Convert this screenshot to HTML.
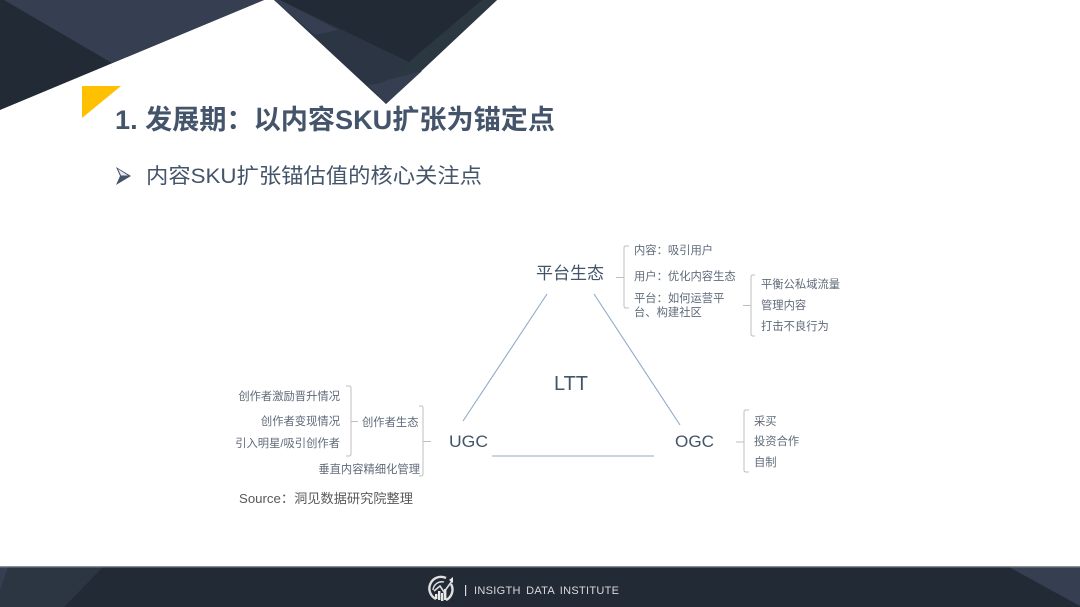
<!DOCTYPE html>
<html lang="zh">
<head>
<meta charset="utf-8">
<title>发展期：以内容SKU扩张为锚定点</title>
<style>
html,body{margin:0;padding:0;background:#fff;width:1080px;height:607px;overflow:hidden}
svg{display:block}
text{font-family:"Liberation Sans","Noto Sans CJK SC",sans-serif;filter:blur(.3px)}
.s{font-size:11.3px;fill:#5f6a79}
.m{font-size:17px;fill:#44546a}
.b{fill:none;stroke:#bfbfbf;stroke-width:1}
.l{stroke:#8faac9;stroke-width:1.1;fill:none}
</style>
</head>
<body>
<svg width="1080" height="607" viewBox="0 0 1080 607" xmlns="http://www.w3.org/2000/svg">
<rect width="1080" height="607" fill="#fff"/>

<!-- top left -->
<polygon points="0,0 264,0 0,110" fill="#222a35"/>
<polygon points="4,0 264,0 112,63" fill="#353f51"/>

<!-- top centre -->
<polygon points="274,0 497,0 386,104" fill="#2c3543"/>
<polygon points="280,0 482,0 409,62" fill="#222a35"/>
<polygon points="274,0 280,0 338,30 315,35" fill="#353f51"/>
<polygon points="482,0 497,0 415,77 388,81 409,62" fill="#2b3741"/>
<path d="M368,85 Q380,84 388,80 L422,71 L386,104 Z" fill="#353f51"/>

<!-- yellow corner -->
<polygon points="82,86 121,86 82,118" fill="#ffc000"/>

<!-- title -->
<text x="115" y="129" font-size="27" font-weight="700" fill="#44546a" textLength="440" lengthAdjust="spacingAndGlyphs">1. 发展期：以内容SKU扩张为锚定点</text>

<!-- bullet -->
<polygon points="116,167 131,176 116,185 120,176" fill="#44546a"/>
<polygon points="118,169 128,175.5 121,175.5" fill="#e6e9ee"/>
<text x="146" y="183" font-size="21" fill="#44546a" textLength="336" lengthAdjust="spacingAndGlyphs">内容SKU扩张锚估值的核心关注点</text>

<!-- triangle -->
<line class="l" x1="547" y1="294" x2="463" y2="421"/>
<line class="l" x1="594" y1="294" x2="680" y2="425"/>
<line class="l" x1="492" y1="456" x2="654" y2="456"/>

<!-- main labels -->
<text class="m" x="536" y="279" textLength="68" lengthAdjust="spacingAndGlyphs">平台生态</text>
<text class="m" x="449" y="447" textLength="39" lengthAdjust="spacingAndGlyphs">UGC</text>
<text class="m" x="675" y="447" textLength="39" lengthAdjust="spacingAndGlyphs">OGC</text>
<text x="554" y="390" font-size="20" fill="#44546a" textLength="34" lengthAdjust="spacingAndGlyphs">LTT</text>

<!-- brackets -->
<path class="b" d="M629,246 H626 Q624,246 624,248 V306 Q624,308 626,308 H629 M616,277.5 H624"/>
<path class="b" d="M755,275 H753 Q751,275 751,277 V334 Q751,336 753,336 H755 M743,305.5 H751"/>
<path class="b" d="M346,386 H349 Q351,386 351,388 V454 Q351,456 349,456 H346 M351,421.5 H358"/>
<path class="b" d="M419,406 H421 Q423,406 423,408 V474 Q423,476 421,476 H419 M423,441.5 H431"/>
<path class="b" d="M749,410 H746 Q744,410 744,412 V470 Q744,472 746,472 H749 M736,442 H744"/>

<!-- top labels -->
<text class="s" x="634" y="254">内容：吸引用户</text>
<text class="s" x="634" y="280">用户：优化内容生态</text>
<text class="s" x="634" y="302">平台：如何运营平</text>
<text class="s" x="634" y="316">台、构建社区</text>
<text class="s" x="761" y="288">平衡公私域流量</text>
<text class="s" x="761" y="309">管理内容</text>
<text class="s" x="761" y="330">打击不良行为</text>

<!-- left labels -->
<text class="s" x="340" y="400" text-anchor="end">创作者激励晋升情况</text>
<text class="s" x="340" y="425" text-anchor="end">创作者变现情况</text>
<text class="s" x="340" y="447" text-anchor="end">引入明星/吸引创作者</text>
<text class="s" x="362" y="426">创作者生态</text>
<text class="s" x="420" y="473" text-anchor="end">垂直内容精细化管理</text>
<text x="239" y="503" font-size="13" fill="#595959" textLength="174" lengthAdjust="spacingAndGlyphs">Source：洞见数据研究院整理</text>

<!-- right labels -->
<text class="s" x="754" y="425">采买</text>
<text class="s" x="754" y="445">投资合作</text>
<text class="s" x="754" y="466">自制</text>

<!-- footer -->
<rect x="0" y="566" width="1080" height="41" fill="#222a35"/>
<polygon points="0,567 103,567 64,607 0,607" fill="#2c3643"/>
<polygon points="0,567 8,567 0,590" fill="#353f51"/>
<polygon points="1009,567 1080,567 1080,606" fill="#353f51"/>
<rect x="0" y="566" width="1080" height="1.4" fill="#8a8f96"/>

<!-- logo -->
<g fill="none" stroke="#e0e0e0">
<path d="M436,599 A11.5,11.5 0 0 1 446,578" stroke-width="2.4"/>
<path d="M433,590 A9,9 0 0 1 444,582" stroke-width="1.4"/>
<path d="M451,584 A11.5,11.5 0 0 1 446,600" stroke-width="2.4"/>
<path d="M434,591 L440,586 L444,592 L452,581" stroke-width="1.6"/>
</g>
<polygon points="449,580 453,577 453,583" fill="#e8e8e8"/>
<g fill="#e8e8e8">
<rect x="435" y="594" width="2.4" height="5"/>
<rect x="438" y="591" width="2.4" height="9"/>
<rect x="441" y="593" width="2.4" height="8"/>
<rect x="444" y="589" width="2.4" height="11"/>
</g>
<rect x="465" y="585" width="1.2" height="11" fill="#d9d9d9"/>
<text x="474" y="594" font-size="11" fill="#d9d9d9" textLength="145" lengthAdjust="spacing" style="word-spacing:2px">INSIGTH DATA INSTITUTE</text>
</svg>
</body>
</html>
